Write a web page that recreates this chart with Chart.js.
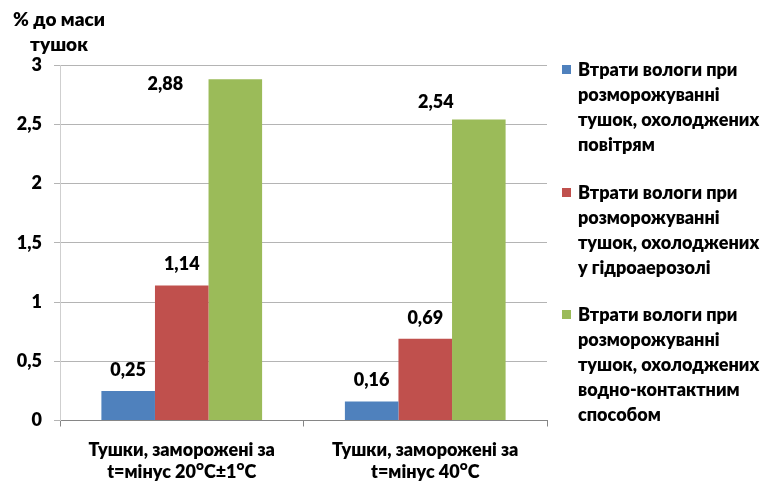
<!DOCTYPE html>
<html lang="uk">
<head>
<meta charset="utf-8">
<script src="https://cdn.jsdelivr.net/npm/chart.js@4.4.1/dist/chart.umd.min.js"></script>
<style>
  html, body { margin: 0; padding: 0; background: #fff; }
  #wrap { position: relative; width: 768px; height: 482px; font-family: Lato, "Noto Sans", sans-serif; font-weight: 800; color: #000; }
  #chart { position: absolute; left: 0; top: 0; }
  #ytitle { position: absolute; left: 0; top: 6px; width: 118px; text-align: center; font-size: 19px; line-height: 25px; }
  #legend { position: absolute; left: 562px; top: 57px; font-size: 18px; }
  .item { position: relative; padding-left: 16px; line-height: 25px; margin-bottom: 22.5px; white-space: nowrap; }
  .swatch { position: absolute; left: 0; top: 8px; width: 9px; height: 9px; }
</style>
</head>
<body>
<div id="wrap">
  <canvas id="chart" width="768" height="482"></canvas>
  <div id="ytitle">% до маси<br>тушок</div>
  <div id="legend"></div>
</div>
<script>
// Categories (two-line axis labels)
const categories = [
  ["Тушки, заморожені за", "t=мінус 20ᴼC±1ᴼC"],
  ["Тушки, заморожені за", "t=мінус 40ᴼC"]
];

// Series names, split into legend lines
const seriesNames = [
  ["Втрати вологи при", "розморожуванні", "тушок, охолоджених", "повітрям"],
  ["Втрати вологи при", "розморожуванні", "тушок, охолоджених", "у гідроаерозолі"],
  ["Втрати вологи при", "розморожуванні", "тушок, охолоджених", "водно-контактним", "способом"]
];

// Moisture loss, % of carcass mass
const airChilled = [0.25, 0.16];
const aerosolChilled = [1.14, 0.69];
const waterChilled = [2.88, 2.54];

const seriesColors = ["#4f81bd", "#c0504d", "#9bbb59"];

const yTicks = [0, 0.5, 1, 1.5, 2, 2.5, 3];

const fmt = v => String(v).replace(".", ",");
const fmt2 = v => v.toFixed(2).replace(".", ",");

const FONT = { family: "Lato, 'Noto Sans', sans-serif", size: 18, weight: "800" };

// Value labels above the bars, with per-label nudges
const valueLabels = {
  id: "valueLabels",
  afterDatasetsDraw(chart, args, opts) {
    const ctx = chart.ctx;
    ctx.save();
    ctx.font = `${FONT.weight} ${FONT.size}px ${FONT.family}`;
    ctx.fillStyle = "#000";
    ctx.textAlign = "center";
    ctx.textBaseline = "middle";
    chart.data.datasets.forEach((ds, di) => {
      const meta = chart.getDatasetMeta(di);
      meta.data.forEach((bar, i) => {
        const n = (opts.nudge[di] && opts.nudge[di][i]) || [0, 0];
        ctx.fillText(fmt2(ds.data[i]), bar.x + n[0], bar.y - opts.gap + n[1]);
      });
    });
    ctx.restore();
  }
};

const chart = new Chart(document.getElementById("chart"), {
  type: "bar",
  data: {
    labels: categories,
    datasets: [airChilled, aerosolChilled, waterChilled].map((d, i) => ({
      label: seriesNames[i].join(" "),
      data: d,
      backgroundColor: seriesColors[i],
      borderWidth: 0,
      categoryPercentage: 0.66,
      barPercentage: 1.0
    }))
  },
  options: {
    responsive: false,
    animation: false,
    layout: { padding: { top: 65, right: 221, left: 0, bottom: 0 } },
    plugins: {
      legend: { display: false },
      tooltip: { enabled: false },
      valueLabels: {
        gap: 21,
        nudge: [[[0, 0], [0, 0]], [[0, 0], [0, 0]], [[-70, 26], [-43, 4]]]
      }
    },
    scales: {
      x: {
        afterFit(s) { s.height = 61.5; },
        grid: { offset: true, drawOnChartArea: false, drawTicks: true, tickLength: 6, color: "#868686" },
        border: { color: "#868686", width: 1 },
        ticks: { font: { ...FONT, lineHeight: 1.25 }, color: "#000", padding: 12, maxRotation: 0 }
      },
      y: {
        min: 0,
        max: 3,
        afterFit(s) { s.width = 60; },
        afterBuildTicks(s) { s.ticks = yTicks.map(v => ({ value: v })); },
        grid: { color: "#b4b4b4", tickLength: 6 },
        border: { color: "#cfcfcf", width: 1 },
        ticks: { font: FONT, color: "#000", padding: 12, callback: v => fmt(v) }
      }
    }
  },
  plugins: [valueLabels]
});

// Legend built from the series names
const legend = document.getElementById("legend");
seriesNames.forEach((lines, i) => {
  const item = document.createElement("div");
  item.className = "item";
  const sw = document.createElement("span");
  sw.className = "swatch";
  sw.style.background = seriesColors[i];
  item.appendChild(sw);
  lines.forEach((t, k) => {
    if (k) item.appendChild(document.createElement("br"));
    item.appendChild(document.createTextNode(t));
  });
  legend.appendChild(item);
});
</script>
</body>
</html>
